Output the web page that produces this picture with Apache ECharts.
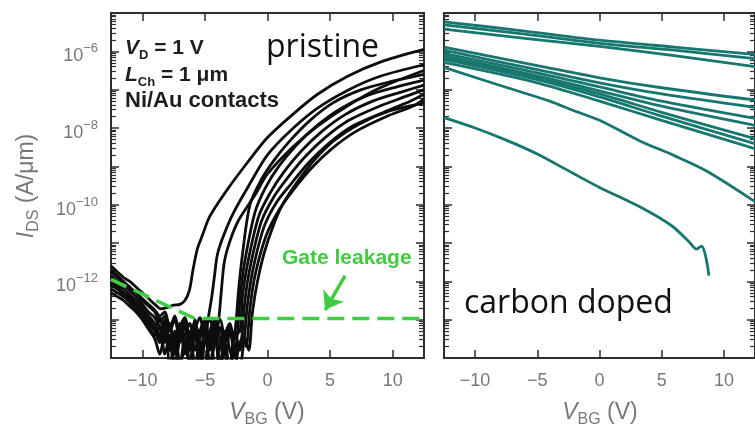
<!DOCTYPE html>
<html>
<head>
<meta charset="utf-8">
<script src="https://cdn.jsdelivr.net/npm/echarts@6/dist/echarts.min.js"></script>
<style>
  html, body { margin: 0; padding: 0; background: #ffffff; }
  #chart { width: 755px; height: 429px; }
</style>
</head>
<body>
<div id="chart"></div>
<script>
// Transfer curves I_DS(V_BG), stored as [V_BG (V), log10 I_DS (A/µm)]

// ---- pristine devices ----
const pristineA = [[-12.5,-11.6],[-12,-11.75],[-11.5,-11.9],[-11,-12.0],[-10.5,-12.15],[-10,-12.3],[-9.5,-12.45],[-9,-12.6],[-8.5,-12.72],[-8,-12.68],[-7.5,-12.62],[-7,-12.6],[-6.6,-12.5],[-6.25,-12.25],[-5.95,-11.7],[-5.6,-11.15],[-5.2,-10.8],[-4.6,-10.3],[-3.2,-9.6],[-1.6,-8.9],[0,-8.25],[2,-7.65],[4,-7.12],[6.4,-6.65],[9,-6.28],[12.5,-5.95]];
const pristineB = [[-12.5,-11.75],[-12,-11.9],[-11.5,-12.05],[-11,-12.2],[-10.5,-12.3],[-10,-12.5],[-9.5,-12.65],[-9,-12.8],[-8.6,-13.05],[-8.2,-12.9],[-7.8,-13.3],[-7.4,-13.0],[-7.0,-13.6],[-6.6,-13.1],[-6.2,-14.2],[-5.8,-13.3],[-5.4,-12.95],[-5.0,-13.5],[-4.7,-12.9],[-4.45,-12.4],[-4.25,-11.9],[-4.0,-11.3],[-3.5,-10.8],[-2.7,-10.2],[-1.4,-9.45],[0,-8.7],[2,-8.02],[4,-7.48],[6.5,-7.0],[9,-6.65],[12.5,-6.35]];
const pristineC = [[-12.5,-11.85],[-12,-12.0],[-11.5,-12.1],[-11,-12.25],[-10.5,-12.4],[-10,-12.6],[-9.5,-12.8],[-9,-12.95],[-8.6,-13.2],[-8.2,-13.6],[-7.8,-13.1],[-7.4,-13.9],[-7.0,-13.2],[-6.6,-12.95],[-6.2,-13.5],[-5.8,-13.0],[-5.4,-14.2],[-5.0,-13.2],[-4.6,-13.0],[-4.2,-13.6],[-3.9,-13.0],[-3.7,-12.3],[-3.45,-11.5],[-3.0,-10.95],[-2.3,-10.4],[-1.0,-9.75],[0,-9.2],[2,-8.5],[4,-7.95],[6.5,-7.4],[9,-6.95],[12.5,-6.5]];
const pristineD = [[-12.5,-11.9],[-12,-12.1],[-11.5,-12.2],[-11,-12.35],[-10.5,-12.5],[-10,-12.7],[-9.5,-12.9],[-9,-13.1],[-8.6,-13.4],[-8.2,-13.0],[-7.8,-13.7],[-7.4,-13.3],[-7.0,-14.2],[-6.6,-13.4],[-6.2,-13.1],[-5.8,-13.8],[-5.4,-13.3],[-5.0,-13.0],[-4.6,-13.7],[-4.2,-13.2],[-3.8,-14.2],[-3.4,-13.4],[-3.0,-13.1],[-2.7,-13.5],[-2.5,-13.0],[-2.3,-12.2],[-2.0,-11.3],[-1.4,-10.0],[-0.5,-9.35],[0.5,-8.85],[1.8,-8.33],[3.4,-7.8],[5.2,-7.35],[7.5,-7.0],[10,-6.78],[12.5,-6.6]];
const pristineE = [[-12.5,-12.0],[-12,-12.15],[-11.5,-12.3],[-11,-12.4],[-10.5,-12.6],[-10,-12.75],[-9.5,-12.95],[-9,-13.2],[-8.6,-12.95],[-8.2,-13.5],[-7.8,-13.2],[-7.4,-13.8],[-7.0,-13.1],[-6.6,-13.6],[-6.2,-14.2],[-5.8,-13.2],[-5.4,-13.6],[-5.0,-14.2],[-4.6,-13.3],[-4.2,-13.0],[-3.8,-13.5],[-3.4,-14.2],[-3.0,-13.3],[-2.6,-13.8],[-2.35,-13.15],[-2.15,-12.3],[-1.8,-11.45],[-1.0,-10.2],[-0.15,-9.55],[0.9,-9.0],[2.3,-8.45],[3.9,-7.95],[5.8,-7.5],[8,-7.15],[10.4,-6.92],[12.5,-6.75]];
const pristineF = [[-12.5,-12.1],[-12,-12.2],[-11.5,-12.35],[-11,-12.5],[-10.5,-12.65],[-10,-12.85],[-9.5,-13.05],[-9,-13.3],[-8.6,-13.6],[-8.2,-13.2],[-7.8,-14.2],[-7.4,-13.5],[-7.0,-13.2],[-6.6,-13.9],[-6.2,-13.3],[-5.8,-14.2],[-5.4,-13.5],[-5.0,-13.2],[-4.6,-14.2],[-4.2,-13.6],[-3.8,-13.2],[-3.4,-13.9],[-3.0,-14.2],[-2.6,-13.4],[-2.2,-13.3],[-2.0,-12.4],[-1.6,-11.55],[-0.7,-10.3],[0.2,-9.7],[1.3,-9.15],[2.7,-8.6],[4.3,-8.1],[6.2,-7.65],[8.4,-7.3],[10.8,-7.05],[12.5,-6.88]];
const pristineG = [[-12.5,-12.2],[-12,-12.3],[-11.5,-12.4],[-11,-12.55],[-10.5,-12.75],[-10,-12.9],[-9.5,-13.15],[-9,-13.4],[-8.6,-13.2],[-8.2,-13.9],[-7.8,-13.4],[-7.4,-14.2],[-7.0,-13.5],[-6.6,-13.2],[-6.2,-13.8],[-5.8,-13.4],[-5.4,-14.2],[-5.0,-13.6],[-4.6,-13.3],[-4.2,-14.2],[-3.8,-13.7],[-3.4,-13.3],[-3.0,-13.8],[-2.6,-14.2],[-2.3,-13.7],[-2.05,-13.45],[-1.8,-12.5],[-1.4,-11.65],[-0.5,-10.45],[0.5,-9.8],[1.6,-9.3],[3.0,-8.75],[4.6,-8.25],[6.5,-7.8],[8.8,-7.45],[11.1,-7.17],[12.5,-7.0]];
const pristineH = [[-12.5,-12.3],[-12,-12.4],[-11.5,-12.5],[-11,-12.65],[-10.5,-12.8],[-10,-13.0],[-9.5,-13.25],[-9,-13.5],[-8.6,-13.9],[-8.2,-13.4],[-7.8,-13.8],[-7.4,-13.3],[-7.0,-14.2],[-6.6,-13.7],[-6.2,-13.4],[-5.8,-14.2],[-5.4,-13.8],[-5.0,-13.4],[-4.6,-14.2],[-4.2,-13.5],[-3.8,-14.2],[-3.4,-13.6],[-3.0,-13.3],[-2.6,-14.0],[-2.2,-13.6],[-1.9,-13.55],[-1.6,-12.6],[-1.2,-11.75],[-0.3,-10.6],[0.7,-9.95],[1.9,-9.45],[3.3,-8.9],[4.9,-8.4],[6.8,-7.95],[9.2,-7.6],[11.4,-7.3],[12.5,-7.12]];
const pristineI = [[-12.5,-11.7],[-12,-11.85],[-11.5,-12.0],[-11,-12.15],[-10.5,-12.3],[-10,-12.45],[-9.5,-12.6],[-9,-12.75],[-8.6,-12.9],[-8.2,-12.8],[-7.8,-13.2],[-7.4,-12.9],[-7.0,-13.4],[-6.6,-13.0],[-6.2,-13.7],[-5.8,-13.1],[-5.4,-13.4],[-5.0,-13.0],[-4.6,-13.8],[-4.2,-13.3],[-3.8,-13.0],[-3.4,-13.6],[-3.0,-14.2],[-2.6,-13.3],[-2.2,-13.8],[-1.9,-13.4],[-1.7,-13.7],[-1.4,-12.7],[-1.0,-11.85],[-0.1,-10.8],[0.9,-10.15],[2.1,-9.6],[3.5,-9.05],[5.1,-8.55],[7.0,-8.1],[9.5,-7.7],[11.7,-7.42],[12.5,-7.24]];
const pristineJ = [[-12.5,-12.05],[-12,-12.2],[-11.5,-12.3],[-11,-12.45],[-10.5,-12.6],[-10,-12.8],[-9.5,-13.0],[-9,-13.25],[-8.6,-13.5],[-8.2,-13.1],[-7.8,-13.6],[-7.4,-14.2],[-7.0,-13.3],[-6.6,-13.0],[-6.2,-13.6],[-5.8,-13.3],[-5.4,-13.9],[-5.0,-14.2],[-4.6,-13.4],[-4.2,-13.1],[-3.8,-14.2],[-3.4,-13.5],[-3.0,-13.2],[-2.6,-13.9],[-2.2,-14.2],[-1.8,-13.5],[-1.5,-13.8],[-1.2,-12.8],[-0.8,-12.0],[-0.3,-11.3],[0.4,-10.6],[1.2,-10.0],[2.4,-9.4],[3.7,-8.85],[5.3,-8.33],[7.3,-7.9],[9.8,-7.55],[12.5,-7.35]];

// gate leakage floor (dashed guide)
const gateLeakageV = [-12.5, -5.8, 12.5];
const gateLeakageLogI = [-11.95, -12.97, -12.97];
// arrow pointing at the leakage floor: [V_BG, log10 I]
const leakageArrowFrom = [6.2, -11.85];
const leakageArrowTo = [4.6, -12.75];

// ---- carbon doped devices ----
const carbonTopA = [[-12.5,-5.23],[-6,-5.47],[0,-5.71],[6,-5.89],[12.5,-6.08]];
const carbonTopB = [[-12.5,-5.31],[-6,-5.55],[0,-5.79],[6,-5.97],[12.5,-6.19]];
const carbonTopC = [[-12.5,-5.42],[-6,-5.66],[0,-5.87],[6,-6.11],[12.5,-6.40]];
const carbonMidA = [[-12.5,-5.89],[-5,-6.37],[0,-6.69],[5,-6.95],[12.5,-7.27]];
const carbonMidB = [[-12.5,-5.97],[-5,-6.48],[0,-6.82],[5,-7.11],[12.5,-7.46]];
const carbonMidC = [[-12.5,-6.05],[-5,-6.56],[0,-6.93],[5,-7.30],[12.5,-7.75]];
const carbonMidD = [[-12.5,-6.11],[-5,-6.64],[0,-7.03],[5,-7.43],[12.5,-7.93]];
const carbonMidE = [[-12.5,-6.16],[-5,-6.69],[0,-7.11],[5,-7.59],[12.5,-8.28]];
const carbonMidF = [[-12.5,-6.21],[-5,-6.74],[0,-7.19],[5,-7.69],[12.5,-8.41]];
const carbonMidG = [[-12.5,-6.29],[-5,-6.82],[0,-7.30],[5,-7.80],[12.5,-8.54]];
const carbonLowA = [[-12.5,-6.42],[-7.4,-6.95],[-4,-7.30],[-2.2,-7.53],[0,-7.80],[3.2,-8.33],[6,-8.72],[8.6,-9.12],[12.5,-9.92]];
const carbonLowB = [[-12.5,-7.73],[-10,-8.0],[-7.4,-8.33],[-5,-8.68],[-2.2,-9.17],[0,-9.55],[3.2,-10.05],[5.8,-10.55],[7.2,-10.97],[7.8,-11.16],[8.2,-11.08],[8.5,-11.3],[8.8,-11.85]];

// ---- axes ----
const vbgTicks = [-10, -5, 0, 5, 10];
const currentLabelExponents = [-12, -10, -8, -6];
const vbgRange = [-12.5, 12.5];
const logIRange = [-14, -5];

// ---------------------------------------------------------------
const pristineCurves = [pristineA, pristineB, pristineC, pristineD, pristineE,
                        pristineF, pristineG, pristineH, pristineI, pristineJ];
const carbonCurves = [carbonTopA, carbonTopB, carbonTopC, carbonMidA, carbonMidB,
                      carbonMidC, carbonMidD, carbonMidE, carbonMidF, carbonMidG,
                      carbonLowA, carbonLowB];

// log-spaced minor tick positions (2..9 inside each decade)
const minorTickPositions = [];
for (let n = logIRange[0]; n < logIRange[1]; n++) {
  for (let k = 2; k <= 9; k++) minorTickPositions.push(n + Math.log10(k));
}

const FONT = '"Liberation Sans", Arial, sans-serif';
const FRAME = '#2e2e2e';
const LABEL_GRAY = '#777777';
const GREEN = '#3fcd3f';
const TEAL = '#17776f';

const minus = v => (v < 0 ? '\u2212' + Math.abs(v) : String(v));

function xAxis(gridIndex, position, showLabels) {
  return {
    type: 'value', gridIndex, position,
    min: vbgRange[0], max: vbgRange[1],
    axisLine: { show: true, onZero: false, lineStyle: { color: FRAME, width: 2 } },
    axisTick: { show: true, inside: true, length: 8, customValues: vbgTicks,
                lineStyle: { color: FRAME, width: 1.5 } },
    axisLabel: { show: showLabels, customValues: vbgTicks, formatter: minus,
                 color: LABEL_GRAY, fontSize: 18, fontFamily: FONT, margin: 14 },
    splitLine: { show: false }
  };
}

function yMajor(gridIndex, position, showLabels) {
  return {
    type: 'value', gridIndex, position,
    min: logIRange[0], max: logIRange[1], interval: 1,
    axisLine: { show: true, onZero: false, lineStyle: { color: FRAME, width: 2 } },
    axisTick: { show: true, inside: true, length: 8, lineStyle: { color: FRAME, width: 1.5 } },
    axisLabel: {
      show: showLabels, customValues: currentLabelExponents, margin: 13,
      padding: [10, 0, 0, 0],
      formatter: v => '{b|10}{s|' + minus(v) + '}',
      rich: {
        b: { fontSize: 18, fontFamily: FONT, color: LABEL_GRAY, lineHeight: 28 },
        s: { fontSize: 13, fontFamily: FONT, color: LABEL_GRAY, lineHeight: 15, verticalAlign: 'top' }
      }
    },
    splitLine: { show: false }
  };
}

function yMinor(gridIndex, position) {
  return {
    type: 'value', gridIndex, position,
    min: logIRange[0], max: logIRange[1],
    axisLine: { show: false, onZero: false },
    axisTick: { show: true, inside: true, length: 5, customValues: minorTickPositions,
                lineStyle: { color: FRAME, width: 1.2 } },
    axisLabel: { show: false },
    splitLine: { show: false }
  };
}

const series = [];
pristineCurves.forEach((d, i) => series.push({
  name: 'pristine ' + (i + 1), type: 'line', xAxisIndex: 0, yAxisIndex: 0,
  data: d, showSymbol: false, smooth: 0.3, silent: true,
  lineStyle: { color: '#0d0d0d', width: 2.8 }, z: 2
}));
series.push({
  name: 'gate leakage', type: 'line', xAxisIndex: 0, yAxisIndex: 0,
  data: gateLeakageV.map((v, i) => [v, gateLeakageLogI[i]]),
  showSymbol: false, silent: true, z: 5,
  lineStyle: { color: GREEN, width: 3.5, type: [17, 8] },
  markLine: {
    silent: true, symbol: ['none', 'arrow'], symbolSize: [18, 17],
    label: { show: false },
    lineStyle: { color: GREEN, width: 3.5, type: 'solid' },
    data: [[{ coord: leakageArrowFrom }, { coord: leakageArrowTo }]]
  }
});
carbonCurves.forEach((d, i) => series.push({
  name: 'carbon doped ' + (i + 1), type: 'line', xAxisIndex: 2, yAxisIndex: 4,
  data: d, showSymbol: false, smooth: 0.3, silent: true,
  lineStyle: { color: TEAL, width: 2.8 }, z: 2
}));

const bold = (size, extra) => Object.assign({ fontSize: size, fontFamily: FONT, fontWeight: 'bold', fill: '#1e1e1e' }, extra || {});
const gray = (size, extra) => Object.assign({ fontSize: size, fontFamily: FONT, fill: LABEL_GRAY }, extra || {});

const chart = echarts.init(document.getElementById('chart'), null, { renderer: 'canvas' });
chart.setOption({
  animation: false,
  backgroundColor: '#ffffff',
  grid: [
    { left: 111, top: 13, width: 313, height: 345 },
    { left: 444, top: 13, width: 311, height: 345 }
  ],
  xAxis: [
    xAxis(0, 'bottom', true), xAxis(0, 'top', false),
    xAxis(1, 'bottom', true), xAxis(1, 'top', false)
  ],
  yAxis: [
    yMajor(0, 'left', true), yMinor(0, 'left'), yMajor(0, 'right', false), yMinor(0, 'right'),
    yMajor(1, 'left', false), yMinor(1, 'left'), yMajor(1, 'right', false), yMinor(1, 'right')
  ],
  series,
  graphic: [
    { type: 'text', x: 125, y: 48, z: 10, style: {
        text: '{i|V}{s|D}{n| = 1 V}', verticalAlign: 'middle',
        rich: { i: bold(21, { fontStyle: 'italic', lineHeight: 27 }), s: bold(13, { lineHeight: 14, verticalAlign: 'bottom' }), n: bold(21, { lineHeight: 27 }) } } },
    { type: 'text', x: 125, y: 75, z: 10, style: {
        text: '{i|L}{s|Ch}{n| = 1 μm}', verticalAlign: 'middle',
        rich: { i: bold(21, { fontStyle: 'italic', lineHeight: 27 }), s: bold(13, { lineHeight: 14, verticalAlign: 'bottom' }), n: bold(21, { lineHeight: 27 }) } } },
    { type: 'text', x: 125, y: 101, z: 10, style: {
        text: 'Ni/Au contacts', verticalAlign: 'middle', fontSize: 22, fontFamily: FONT, fontWeight: 'bold', fill: '#1e1e1e' } },
    { type: 'text', x: 266, y: 48, z: 10, style: {
        text: 'pristine', verticalAlign: 'middle', fontSize: 32, fontFamily: '"Open Sans", sans-serif', fill: '#111111' } },
    { type: 'text', x: 464, y: 304, z: 10, style: {
        text: 'carbon doped', verticalAlign: 'middle', fontSize: 32, fontFamily: '"Open Sans", sans-serif', fill: '#111111' } },
    { type: 'text', x: 282, y: 258, z: 10, style: {
        text: 'Gate leakage', verticalAlign: 'middle', fontSize: 21, fontFamily: FONT, fontWeight: 'bold', fill: GREEN } },
    { type: 'text', x: 27, y: 186, rotation: Math.PI / 2, z: 10, style: {
        text: '{i|I}{s|DS}{n| (A/μm)}', align: 'center', verticalAlign: 'middle',
        rich: { i: gray(23, { fontStyle: 'italic', lineHeight: 29 }), s: gray(16, { lineHeight: 17, verticalAlign: 'bottom' }), n: gray(23, { lineHeight: 29 }) } } },
    { type: 'text', x: 267, y: 413, z: 10, style: {
        text: '{i|V}{s|BG}{n| (V)}', align: 'center', verticalAlign: 'middle',
        rich: { i: gray(23, { fontStyle: 'italic', lineHeight: 29 }), s: gray(16, { lineHeight: 17, verticalAlign: 'bottom' }), n: gray(23, { lineHeight: 29 }) } } },
    { type: 'text', x: 600, y: 413, z: 10, style: {
        text: '{i|V}{s|BG}{n| (V)}', align: 'center', verticalAlign: 'middle',
        rich: { i: gray(23, { fontStyle: 'italic', lineHeight: 29 }), s: gray(16, { lineHeight: 17, verticalAlign: 'bottom' }), n: gray(23, { lineHeight: 29 }) } } }
  ]
});
</script>
</body>
</html>
